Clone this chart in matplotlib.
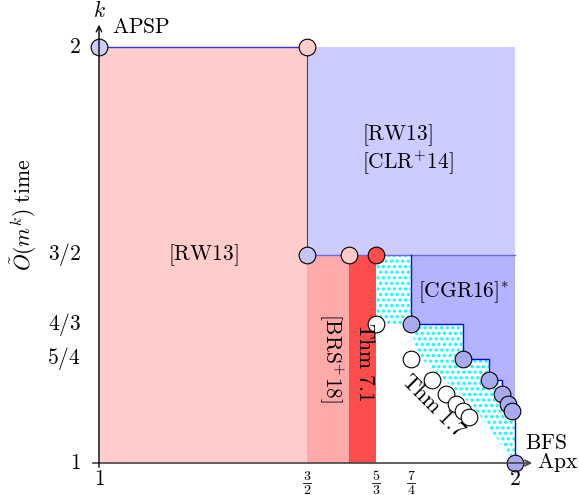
import matplotlib
matplotlib.use("Agg")
import matplotlib.pyplot as plt
from matplotlib.patches import Polygon

plt.rcParams['mathtext.fontset'] = 'cm'
plt.rcParams['hatch.linewidth'] = 1.5

# axis ticks
apx_ticks = [1, 3/2, 5/3, 7/4, 2]
apx_num = ['1', '3', '5', '7', '2']
apx_den = ['', '2', '3', '4', '']
k_ticks = [1, 5/4, 4/3, 3/2, 2]
k_labels = [r'$1$', r'$5/4$', r'$4/3$', r'$3/2$', r'$2$']

# known results (approximation, exponent k)
brs_apx = 8/5
thm71_apx = 5/3
cgr_apx = [7/4, 15/8, 31/16, 63/32, 127/64, 255/128]
cgr_k = [4/3, 5/4, 6/5, 7/6, 8/7, 9/8]
thm17_apx = [5/3, 7/4, 9/5, 11/6, 13/7, 15/8, 17/9]
thm17_k = [4/3, 5/4, 6/5, 7/6, 8/7, 9/8, 10/9]
# lower edge of the open (dotted) region
gap_edge_apx = [7/4, 1.765, 1.90, 2]
gap_edge_k = [4/3, 1.26, 1.135, 1]

FS = 15.5
px = 1 / 416  # one pixel in data units

fig = plt.figure(figsize=(5.79, 4.95), dpi=100)
ax = fig.add_axes([0, 0, 1, 1])
ax.set_xlim(1 - 99 * px, 1 + 480 * px)
ax.set_ylim(1 - 32 * px, 2 + 47 * px)
ax.axis('off')

# lower-bound / upper-bound regions
ax.fill_between([1, 3/2], 1, 2, color='#ffcccc', lw=0)
ax.fill_between([3/2, brs_apx], 1, 3/2, color='#ffaaaa', lw=0)
ax.fill_between([brs_apx, thm71_apx], 1, 3/2, color='#ff4d4d', lw=0)
ax.fill_between([3/2, 2], 3/2, 2, color='#ccccff', lw=0)

# CGR16 staircase
stair = [(7/4, 3/2)]
for i in range(len(cgr_apx)):
    stair.append((cgr_apx[i], cgr_k[i]))
    nx_ = cgr_apx[i + 1] if i + 1 < len(cgr_apx) else 2
    stair.append((nx_, cgr_k[i]))
stair.append((2, 1))
ax.add_patch(Polygon(stair + [(2, 3/2)], closed=True, facecolor='#b3b3ff', lw=0))

# open gap (dotted)
edge = list(zip(gap_edge_apx, gap_edge_k))[::-1]
gap = [(thm71_apx, 3/2)] + stair + edge[1:] + [(thm71_apx, 4/3)]
ax.add_patch(Polygon(gap, closed=True, facecolor='white', edgecolor='cyan',
                     lw=0, hatch='...'))

# boundary lines
ax.plot([1, 3/2], [2, 2], color='#3333ff', lw=1)
ax.plot([3/2, 3/2], [3/2, 2], color='#3a3a99', lw=0.8)
ax.plot([3/2, 2], [3/2, 3/2], color='#6666ff', lw=1)
sx, sy = zip(*stair)
ax.plot(sx, sy, color='#0000ff', lw=1)

# axes with arrows
ax.annotate('', xy=(2 + 20 * px, 1), xytext=(1 - 9 * px, 1),
            arrowprops=dict(arrowstyle='->', color='#444444', lw=1.2))
ax.annotate('', xy=(1, 2 + 25 * px), xytext=(1, 1 - 7 * px),
            arrowprops=dict(arrowstyle='->', color='black', lw=1))
ax.text(2 + 22 * px, 1, r'$\mathrm{Apx}$', fontsize=FS, va='center', ha='left')
ax.text(1, 2 + 37 * px, r'$k$', fontsize=FS, va='center', ha='center')
ax.text(1 + 13 * px, 2 + 20 * px, r'$\mathrm{APSP}$', fontsize=FS, va='center', ha='left')
ax.text(2 + 10 * px, 1 + 20 * px, r'$\mathrm{BFS}$', fontsize=FS, va='center', ha='left')

for v, num, den in zip(apx_ticks, apx_num, apx_den):
    if not den:
        ax.text(v, 1 - 6 * px, '$%s$' % num, fontsize=FS, va='top', ha='center')
    else:
        ax.text(v, 1 - 17 * px, '$%s$' % num, fontsize=10, va='baseline', ha='center')
        ax.plot([v - 4 * px, v + 4 * px], [1 - 20 * px] * 2, color='black', lw=0.6)
        ax.text(v, 1 - 30.5 * px, '$%s$' % den, fontsize=10, va='baseline', ha='center')
for v, lab in zip(k_ticks, k_labels):
    ax.text(1 - 18 * px, v, lab, fontsize=FS, va='center', ha='right')
ax.text(1 - 75 * px, 1.596, r'$\tilde{O}(m^k)\ \mathrm{time}$', fontsize=FS,
        rotation=90, va='center', ha='center')

# points
ms = 12
ax.plot([1], [2], 'o', ms=ms, mfc='#ccccf5', mec='black', mew=0.8, clip_on=False)
ax.plot([3/2], [2], 'o', ms=ms, mfc='#ffcccc', mec='black', mew=0.8)
ax.plot([3/2], [3/2], 'o', ms=ms, mfc='#c4c4f0', mec='black', mew=0.8)
ax.plot([brs_apx], [3/2], 'o', ms=ms, mfc='#ffc8c0', mec='black', mew=0.8)
ax.plot([thm71_apx], [3/2], 'o', ms=ms, mfc='#ff4d4d', mec='black', mew=0.8)
ax.plot(cgr_apx + [2], cgr_k + [1], 'o', ms=ms, mfc='#aaaaee', mec='black', mew=0.8)
ax.plot(thm17_apx, thm17_k, 'o', ms=ms, mfc='white', mec='black', mew=0.8)

# region labels
ax.text(1.25, 1.5, r'$\mathrm{[RW13]}$', fontsize=FS, va='center', ha='center')
ax.text(1.633, 1.788, r'$\mathrm{[RW13]}$', fontsize=FS, va='center', ha='left')
ax.text(1.633, 1.724, r'$\mathrm{[CLR^{+}14]}$', fontsize=FS, va='center', ha='left')
ax.text(1.767, 1.411, r'$\mathrm{[CGR16]}^{*}$', fontsize=FS, va='center', ha='left')
ax.text(1.560, 1.252, r'$\mathrm{[BRS^{+}18]}$', fontsize=FS, va='center', ha='center',
        rotation=-90)
ax.text(1.639, 1.243, r'$\mathrm{Thm\ 7.1}$', fontsize=FS, va='center', ha='center',
        rotation=-90)
ax.text(1.803, 1.136, r'$\mathrm{Thm\ 1.7}$', fontsize=FS, va='center', ha='center',
        rotation=-45)

fig.savefig('out.png', dpi=100)
